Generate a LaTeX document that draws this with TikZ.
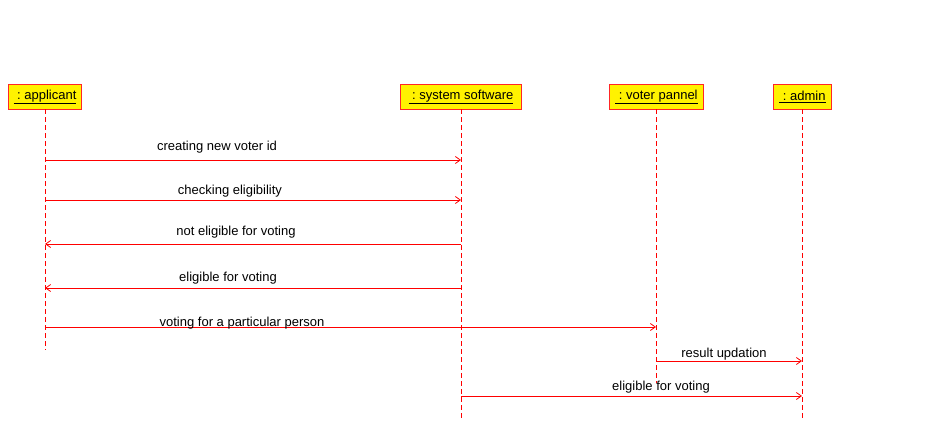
\documentclass[tikz,border=0pt]{standalone}
\usepackage{fontspec}
\setmainfont{Liberation Sans}
\usetikzlibrary{arrows.meta}
\begin{document}
\begin{tikzpicture}[x=1pt,y=-1pt,
  objbox/.style={draw=red!85!white,fill=yellow,line width=0.9pt,minimum height=25pt,inner xsep=5pt,anchor=north west,font=\fontsize{13}{15}\selectfont},
  lifeline/.style={draw=red,dashed,dash pattern=on 5pt off 3pt,line width=0.8pt},
  msg/.style={draw=red,line width=0.8pt,-{Straight Barb[length=5pt,width=7pt]}},
  lbl/.style={font=\fontsize{13}{15}\selectfont,anchor=base,inner sep=0pt}]
\useasboundingbox (0,0) rectangle (950,428);
% objects
\node[objbox,minimum width=73pt] (app) at (8,84) {\underline{\ :\ applicant}};
\node[objbox,minimum width=121pt] (sys) at (400,84) {\underline{\ :\ system software}};
\node[objbox,minimum width=94pt] (vp) at (609,84) {\underline{\ :\ voter pannel}};
\node[objbox,minimum width=58pt] (adm) at (773,84) {\underline{\ :\ admin}};
% lifeline ends
\coordinate (appE) at (45,350);
\coordinate (sysE) at (461,418);
\coordinate (vpE) at (656,383);
\coordinate (admE) at (802,418);
\draw[lifeline] (45,109) -- (appE);
\draw[lifeline] (461,109) -- (sysE);
\draw[lifeline] (656,109) -- (vpE);
\draw[lifeline] (802,109) -- (admE);
% message points
\coordinate (a1) at (45,160); \coordinate (s1) at (461,160);
\coordinate (a2) at (45,200); \coordinate (s2) at (461,200);
\coordinate (a3) at (45,244); \coordinate (s3) at (461,244);
\coordinate (a4) at (45,288); \coordinate (s4) at (461,288);
\coordinate (a5) at (45,327); \coordinate (v5) at (656,327);
\coordinate (v6) at (656,361); \coordinate (d6) at (802,361);
\coordinate (s7) at (461,396); \coordinate (d7) at (802,396);
\draw[msg] (a1) -- (s1);
\draw[msg] (a2) -- (s2);
\draw[msg] (s3) -- (a3);
\draw[msg] (s4) -- (a4);
\draw[msg] (a5) -- (v5);
\draw[msg] (v6) -- (d6);
\draw[msg] (s7) -- (d7);
% labels
\node[lbl] (l1) at (217,150) {creating new voter id};
\node[lbl] (l2) at (230,194) {checking eligibility};
\node[lbl] (l3) at (236,235) {not eligible for voting};
\node[lbl] (l4) at (228,281) {eligible for voting};
\node[lbl] (l5) at (242,326) {voting for a particular person};
\node[lbl] (l6) at (724,357) {result updation};
\node[lbl] (l7) at (661,390) {eligible for voting};
\end{tikzpicture}
\end{document}
